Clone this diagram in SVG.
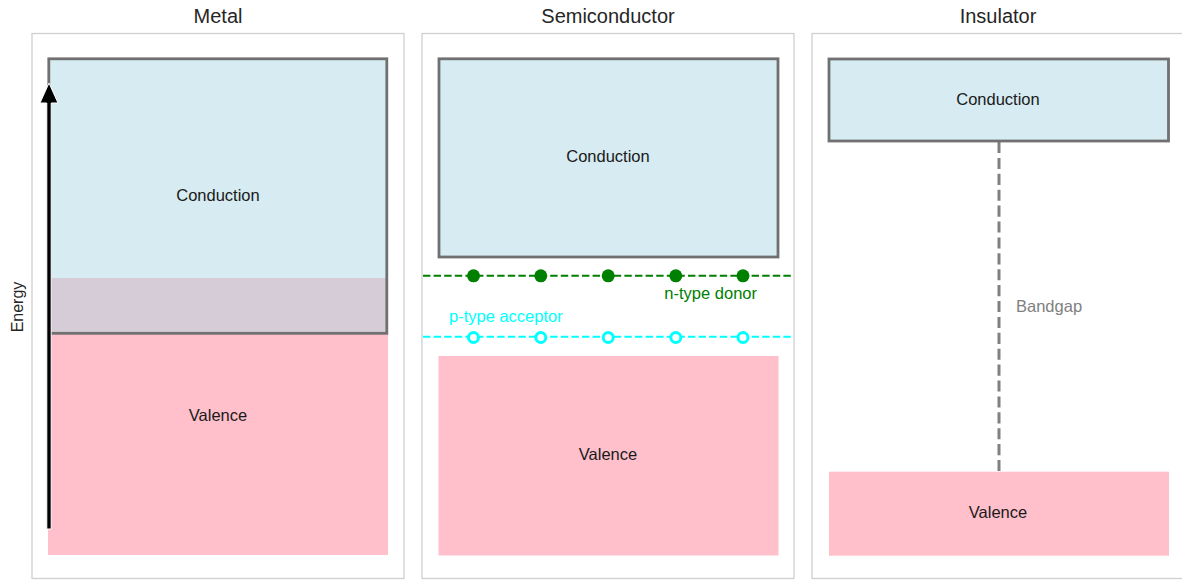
<svg xmlns="http://www.w3.org/2000/svg" width="1182" height="580" viewBox="0 0 1182 580">
<style>
.frame{fill:none;stroke:#cfcfcf;stroke-width:1.3}
.title{font-family:"Liberation Sans",Arial,sans-serif;font-size:20px;fill:#262626;text-anchor:middle}
.lbl{font-family:"Liberation Sans",Arial,sans-serif;font-size:16.5px;fill:#1a1a1a;text-anchor:middle}
.cond{fill:#add8e6;fill-opacity:0.5;stroke:#707070;stroke-width:2.8}
.val{fill:#ffc0cb}
.donor{fill:#008000}
.acc{fill:#ffffff;stroke:#00ffff;stroke-width:3}
</style>
<rect width="1182" height="580" fill="#ffffff"/>
<g id="panel-metal">
  <rect class="frame" x="32" y="33.5" width="372" height="545"/>
  <text class="title" x="218" y="23">Metal</text>
  <g id="metal-valence"><rect class="val" x="48" y="278" width="340" height="277"/><text class="lbl" x="218" y="421">Valence</text></g>
  <g id="metal-conduction"><rect class="cond" x="48.8" y="58.8" width="338" height="274.5"/><text class="lbl" x="218" y="201">Conduction</text></g>
  <g id="energy-axis">
    <path d="M46.8,529 L46.8,103 L40,103 L49,83 L58,103 L51.2,103 L51.2,529 Z" fill="#000000" stroke="#ffffff" stroke-width="1"/>
    <text class="lbl" style="font-size:16px;fill:#262626" transform="translate(23,307) rotate(-90)">Energy</text>
  </g>
</g>
<g id="panel-semiconductor">
  <rect class="frame" x="422" y="33.5" width="372" height="545"/>
  <text class="title" x="608" y="23">Semiconductor</text>
  <g id="semi-conduction"><rect class="cond" x="439" y="58.8" width="339" height="198.2"/><text class="lbl" x="608" y="162">Conduction</text></g>
  <g id="semi-valence"><rect class="val" x="438.5" y="356" width="340" height="199.5"/><text class="lbl" x="608" y="459.5">Valence</text></g>
  <g id="n-type-donor">
    <line x1="422" y1="275.8" x2="794" y2="275.8" stroke="#008000" stroke-width="2" stroke-dasharray="7.4 3.2" stroke-dashoffset="-1"/>
    <circle class="donor" cx="473.5" cy="275.8" r="6.5"/>
    <circle class="donor" cx="540.8" cy="275.8" r="6.5"/>
    <circle class="donor" cx="608.2" cy="275.8" r="6.5"/>
    <circle class="donor" cx="675.8" cy="275.8" r="6.5"/>
    <circle class="donor" cx="743" cy="275.8" r="6.5"/>
    <text class="lbl" style="fill:#008000;text-anchor:end" x="757" y="298.5">n-type donor</text>
  </g>
  <g id="p-type-acceptor">
    <line x1="422" y1="336.8" x2="794" y2="336.8" stroke="#00ffff" stroke-width="2" stroke-dasharray="7.4 3.2" stroke-dashoffset="-1"/>
    <circle class="acc" cx="473.5" cy="337.5" r="5"/>
    <circle class="acc" cx="540.8" cy="337.5" r="5"/>
    <circle class="acc" cx="608.2" cy="337.5" r="5"/>
    <circle class="acc" cx="675.8" cy="337.5" r="5"/>
    <circle class="acc" cx="743" cy="337.5" r="5"/>
    <text class="lbl" style="fill:#00ffff;text-anchor:start" x="449" y="322">p-type acceptor</text>
  </g>
</g>
<g id="panel-insulator">
  <rect class="frame" x="812" y="33.5" width="372" height="545"/>
  <text class="title" x="998" y="23">Insulator</text>
  <g id="connectors">
    <line id="bandgap-line" x1="999" y1="142" x2="999" y2="471" stroke="#808080" stroke-width="3" stroke-dasharray="11.1 4.8"/>
  </g>
  <text class="lbl" style="fill:#808080;text-anchor:start" x="1016" y="312">Bandgap</text>
  <g id="ins-conduction"><rect class="cond" x="829" y="59" width="339.5" height="82"/><text class="lbl" x="998" y="104.5">Conduction</text></g>
  <g id="ins-valence"><rect class="val" x="829" y="471.7" width="340" height="84"/><text class="lbl" x="998" y="518">Valence</text></g>
</g>
</svg>
